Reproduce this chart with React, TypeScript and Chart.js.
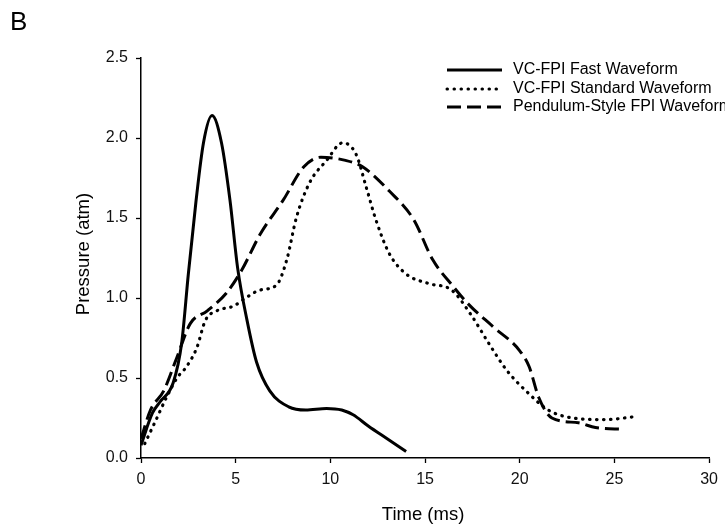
import React, { useEffect, useRef } from "react";
import { Chart, registerables } from "chart.js";
Chart.register(...registerables);

const seriesNames = ["VC-FPI Fast Waveform", "VC-FPI Standard Waveform", "Pendulum-Style FPI Waveform"];

const fastX = [0, 0.6, 1.0, 1.7, 2.15, 2.5, 2.9, 3.3, 3.75, 4.25, 4.7, 5.1, 5.6, 6.1, 6.8, 7.8, 8.7, 9.8, 10.6, 11.2, 12.0, 13.0, 14.0];
const fastY = [0.08, 0.28, 0.35, 0.47, 0.72, 1.15, 1.6, 1.97, 2.14, 1.97, 1.61, 1.19, 0.86, 0.6, 0.42, 0.32, 0.30, 0.31, 0.30, 0.27, 0.2, 0.12, 0.04];

const stdX = [0.2, 0.8, 1.35, 1.9, 2.4, 2.95, 3.4, 4.0, 4.9, 5.4, 6.3, 7.15, 7.7, 8.2, 8.9, 9.8, 10.65, 11.35, 11.9, 12.4, 13.1, 14.0, 15.2, 16.4, 17.4, 18.4, 19.3, 20.5, 21.5, 22.8, 24.5, 26.2];
const stdY = [0.09, 0.24, 0.38, 0.5, 0.57, 0.69, 0.86, 0.92, 0.95, 0.99, 1.05, 1.08, 1.24, 1.5, 1.72, 1.86, 1.97, 1.9, 1.69, 1.49, 1.28, 1.15, 1.09, 1.05, 0.9, 0.71, 0.55, 0.40, 0.30, 0.25, 0.24, 0.26];

const penX = [0, 0.5, 1.2, 1.9, 2.6, 3.5, 4.5, 5.3, 6.3, 7.5, 8.6, 9.5, 10.8, 11.7, 13.1, 14.4, 15.4, 16.5, 17.3, 18.6, 20.0, 20.5, 21.0, 21.7, 23.1, 24.0, 25.5];
const penY = [0.12, 0.30, 0.42, 0.63, 0.84, 0.92, 1.03, 1.17, 1.40, 1.61, 1.82, 1.88, 1.86, 1.82, 1.67, 1.49, 1.24, 1.07, 0.96, 0.82, 0.67, 0.57, 0.38, 0.25, 0.22, 0.19, 0.18];

const xMin = 0, xMax = 30, xStep = 5;
const yMin = 0, yMax = 2.5, yStep = 0.5;

const FONT = "'Liberation Sans', Arial, sans-serif";
const dashes: number[][] = [[], [0.5, 6.5], [14, 6]];

const toPts = (xs: number[], ys: number[]) => xs.map((x, i) => ({ x, y: ys[i] }));

const overlay = {
  id: "overlay",
  afterDraw(chart: any) {
    const ctx = chart.ctx as CanvasRenderingContext2D;
    const a = chart.chartArea;
    ctx.save();
    ctx.fillStyle = "#000";
    ctx.font = `26px ${FONT}`;
    ctx.textBaseline = "alphabetic";
    ctx.textAlign = "left";
    ctx.fillText("B", 10, 30);

    // legend
    ctx.font = `16px ${FONT}`;
    ctx.textBaseline = "middle";
    const rows = [70, 89, 107];
    seriesNames.forEach((n, i) => {
      ctx.beginPath();
      ctx.setLineDash(dashes[i]);
      ctx.lineWidth = 3;
      ctx.lineCap = i === 1 ? "round" : "butt";
      ctx.strokeStyle = "#000";
      ctx.moveTo(447, rows[i]);
      ctx.lineTo(502, rows[i]);
      ctx.stroke();
      ctx.setLineDash([]);
      ctx.fillText(n, 513, rows[i]);
    });

    // axis titles
    ctx.font = `18.5px ${FONT}`;
    ctx.textAlign = "center";
    ctx.fillText("Time (ms)", (a.left + a.right) / 2 - 2, 515);
    ctx.translate(84, 254);
    ctx.rotate(-Math.PI / 2);
    ctx.fillText("Pressure (atm)", 0, 0);
    ctx.restore();
  },
};

export default function App() {
  const ref = useRef<HTMLCanvasElement>(null);
  useEffect(() => {
    const chart = new Chart(ref.current!, {
      type: "line",
      data: {
        datasets: [
          { label: seriesNames[0], data: toPts(fastX, fastY), borderColor: "#000", borderWidth: 3, pointRadius: 0, cubicInterpolationMode: "monotone", fill: false },
          { label: seriesNames[1], data: toPts(stdX, stdY), borderColor: "#000", borderWidth: 3.2, borderDash: dashes[1], borderCapStyle: "round", pointRadius: 0, cubicInterpolationMode: "monotone", fill: false },
          { label: seriesNames[2], data: toPts(penX, penY), borderColor: "#000", borderWidth: 3, borderDash: dashes[2], pointRadius: 0, cubicInterpolationMode: "monotone", fill: false },
        ],
      } as any,
      options: {
        responsive: false,
        animation: false,
        events: [],
        layout: { padding: { top: 58, right: 15, left: 0, bottom: 0 } },
        plugins: { legend: { display: false }, tooltip: { enabled: false } },
        scales: {
          x: {
            type: "linear",
            min: xMin,
            max: xMax,
            ticks: { stepSize: xStep, color: "#111", font: { family: FONT, size: 16 }, padding: 7, maxRotation: 0 },
            grid: { drawOnChartArea: false, tickLength: 5, tickColor: "#000", tickWidth: 1.3 },
            border: { color: "#000", width: 1.5 },
            afterFit: (s: any) => { s.height = 73; },
          },
          y: {
            type: "linear",
            min: yMin,
            max: yMax,
            ticks: { stepSize: yStep, color: "#111", font: { family: FONT, size: 16 }, padding: 8, callback: (v: any) => Number(v).toFixed(1) },
            grid: { drawOnChartArea: false, tickLength: 5, tickColor: "#000", tickWidth: 1.3 },
            border: { color: "#000", width: 1.5 },
            afterFit: (s: any) => { s.width = 141; },
          },
        },
      } as any,
      plugins: [overlay],
    });
    return () => chart.destroy();
  }, []);
  return (
    <div style={{ position: "fixed", left: 0, top: 0, width: 725, height: 531, background: "#fff" }}>
      <canvas ref={ref} width={725} height={531} style={{ display: "block" }} />
    </div>
  );
}
